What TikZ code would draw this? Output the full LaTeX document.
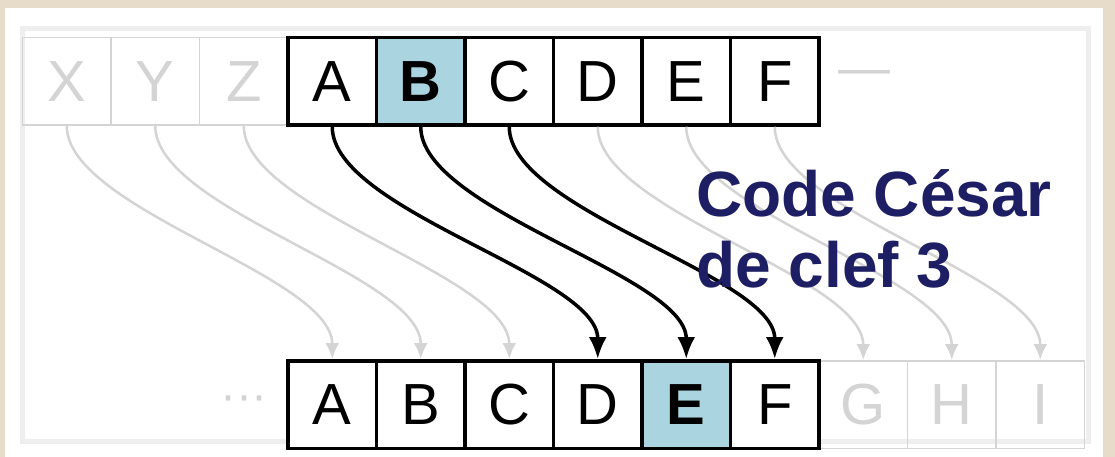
\documentclass[tikz,border=0pt]{standalone}
\usepackage{fontspec}
\setmainfont{Liberation Sans}
\usetikzlibrary{arrows.meta}
\definecolor{beige}{RGB}{231,219,202}
\definecolor{cellblue}{RGB}{170,213,224}
\definecolor{navy}{RGB}{30,30,100}
\definecolor{ghost}{RGB}{212,212,212}
\definecolor{framegray}{RGB}{238,238,238}
\begin{document}
\begin{tikzpicture}[x=1pt,y=-1pt,
  cell/.style={draw=black, line width=3.5pt, minimum width=88.5pt, minimum height=87.5pt, inner sep=0pt, fill=white, font=\fontsize{58}{60}\selectfont},
  hicell/.style={cell, fill=cellblue, font=\fontsize{58}{60}\selectfont\bfseries},
  ghostcell/.style={draw=ghost, line width=1.5pt, minimum width=88.5pt, minimum height=87.5pt, inner sep=0pt, text=ghost, font=\fontsize{58}{60}\selectfont},
  ghosttext/.style={text=ghost, inner sep=0pt},
  mainarrow/.style={line width=3.5pt, -{Latex[length=22pt,width=18pt]}},
  ghostarrow/.style={draw=ghost, line width=2.5pt, -{Latex[length=16pt,width=14pt]}},
  label/.style={anchor=base west, text=navy, inner sep=0pt, font=\fontsize{64}{70}\selectfont\bfseries},
]
\useasboundingbox (0,0) rectangle (1115,457);
\fill[beige] (0,0) rectangle (1115,457);
\fill[white] (5,8) rectangle (1103,457);
\draw[framegray, line width=5pt] (22,29) rectangle (1088,441);

% ghost cells
\node[ghostcell] (gX) at (66.75,81.25) {X};
\node[ghostcell] (gY) at (155.25,81.25) {Y};
\node[ghostcell] (gZ) at (243.75,81.25) {Z};
\node[ghostcell] (gG) at (863.25,404.5) {G};
\node[ghostcell] (gH) at (951.75,404.5) {H};
\node[ghostcell] (gI) at (1040.25,404.5) {I};
\node[ghosttext, font=\fontsize{52}{52}\selectfont] (dashR) at (864,78) {—};
\node[ghosttext, font=\fontsize{48}{48}\selectfont] (dotsL) at (244,404) {···};

% main cells
\node[cell]   (tA) at (332.25,81.25) {A};
\node[hicell] (tB) at (420.75,81.25) {B};
\node[cell]   (tC) at (509.25,81.25) {C};
\node[cell]   (tD) at (597.75,81.25) {D};
\node[cell]   (tE) at (686.25,81.25) {E};
\node[cell]   (tF) at (774.75,81.25) {F};

\node[cell]   (bA) at (332.25,404.5) {A};
\node[cell]   (bB) at (420.75,404.5) {B};
\node[cell]   (bC) at (509.25,404.5) {C};
\node[cell]   (bD) at (597.75,404.5) {D};
\node[hicell] (bE) at (686.25,404.5) {E};
\node[cell]   (bF) at (774.75,404.5) {F};

% ghost arrows
\draw[ghostarrow] (gX.south) .. controls +(0,84) and +(0,-84) .. (bA.north);
\draw[ghostarrow] (gY.south) .. controls +(0,84) and +(0,-84) .. (bB.north);
\draw[ghostarrow] (gZ.south) .. controls +(0,84) and +(0,-84) .. (bC.north);
\draw[ghostarrow] (tD.south) .. controls +(0,84) and +(0,-84) .. (gG.north);
\draw[ghostarrow] (tE.south) .. controls +(0,84) and +(0,-84) .. (gH.north);
\draw[ghostarrow] (tF.south) .. controls +(0,84) and +(0,-84) .. (gI.north);

% main arrows
\draw[mainarrow] (tA.south) .. controls +(0,84) and +(0,-84) .. (bD.north);
\draw[mainarrow] (tB.south) .. controls +(0,84) and +(0,-84) .. (bE.north);
\draw[mainarrow] (tC.south) .. controls +(0,84) and +(0,-84) .. (bF.north);

% label
\node[label] (l1) at (696,216) {Code César};
\node[label] (l2) at (696,287) {de clef 3};
\end{tikzpicture}
\end{document}
